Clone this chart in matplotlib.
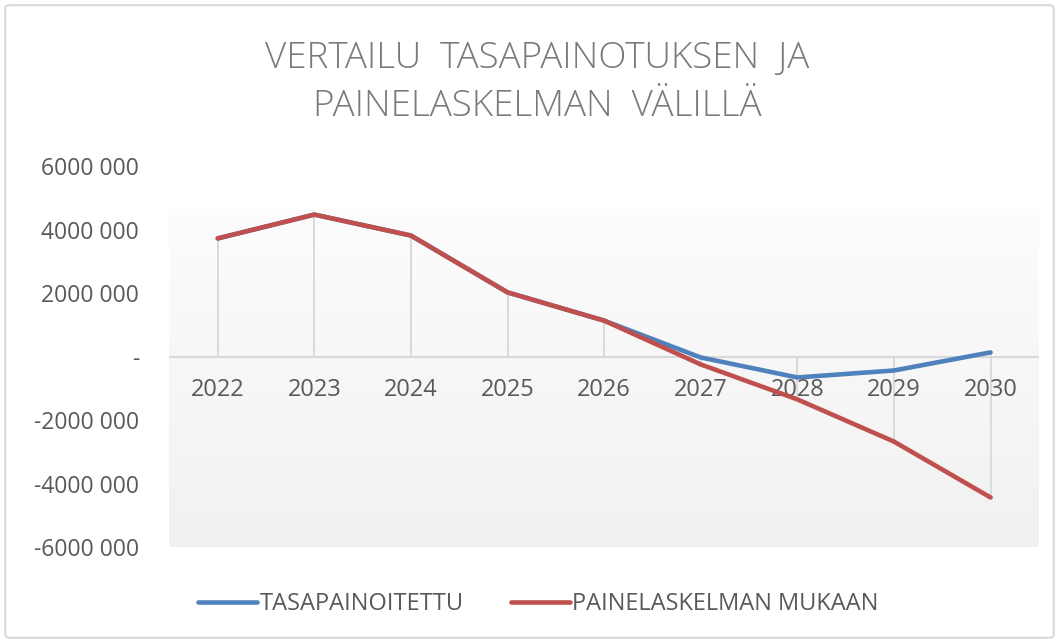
import numpy as np
import matplotlib.pyplot as plt
from matplotlib.patches import FancyBboxPatch

years = ["2022", "2023", "2024", "2025", "2026", "2027", "2028", "2029", "2030"]
tasapainoitettu = [3720000, 4470000, 3810000, 2020000, 1130000, -30000, -660000, -440000, 130000]
painelaskelma = [3720000, 4470000, 3810000, 2020000, 1130000, -250000, -1350000, -2680000, -4440000]
y_ticks = [-6000000, -4000000, -2000000, 0, 2000000, 4000000, 6000000]
y_labels = ["-6000 000", "-4000 000", "-2000 000", "-", "2000 000", "4000 000", "6000 000"]

blue = "#4F81BD"
red = "#C0504D"
grey_txt = "#595959"
font = "Open Sans"

fig = plt.figure(figsize=(10.59, 6.43), dpi=100)
fig.patch.set_facecolor("white")

# chart border
border = FancyBboxPatch((0.005, 0.008), 0.99, 0.984, boxstyle="round,pad=0,rounding_size=0.005",
                        transform=fig.transFigure, facecolor="none", edgecolor="#d9d9d9", lw=1.5)
fig.patches.append(border)

ax = fig.add_axes([0.160, 0.1493, 0.821, 0.5925])
x = np.arange(len(years))
ax.set_xlim(-0.5, len(years) - 0.5)
ax.set_ylim(-6000000, 6000000)

# gradient plot-area fill
grad = np.linspace(0.99, 0.945, 256).reshape(-1, 1)
ax.imshow(np.dstack([grad, grad, grad]), extent=[-0.5, len(years) - 0.5, -6000000, 4630000],
          aspect="auto", zorder=0, interpolation="bilinear")

# drop lines
for i in range(len(years)):
    for v in (tasapainoitettu[i], painelaskelma[i]):
        ax.plot([x[i], x[i]], [0, v], color="#d9d9d9", lw=1.3, zorder=1)

ax.axhline(0, color="#d9d9d9", lw=1.5, zorder=1)

ax.plot(x, tasapainoitettu, color=blue, lw=3.3, solid_capstyle="round", zorder=3, label="TASAPAINOITETTU")
ax.plot(x, painelaskelma, color=red, lw=3.3, solid_capstyle="round", zorder=4, label="PAINELASKELMAN MUKAAN")

for sp in ax.spines.values():
    sp.set_visible(False)
ax.set_xticks([])
ax.set_yticks(y_ticks)
ax.set_yticklabels(y_labels, fontsize=16.5, color=grey_txt, family=font)
ax.tick_params(axis="y", length=0, pad=22)

for i, yr in enumerate(years):
    ax.annotate(yr, (x[i], 0), xytext=(0, -24), textcoords="offset points",
                ha="center", va="center", fontsize=17, color=grey_txt, family=font)

fig.text(0.507, 0.872, "VERTAILU  TASAPAINOTUKSEN  JA\nPAINELASKELMAN  VÄLILLÄ", ha="center", va="center",
         fontsize=26.5, color="#7a7a7a", family=font, weight="light", linespacing=1.4)

leg = fig.legend(loc="center", bbox_to_anchor=(0.5085, 0.061), ncol=2, frameon=False,
                 prop={"family": font, "size": 17}, handlelength=2.5, handletextpad=0.1, columnspacing=2.0)
for t in leg.get_texts():
    t.set_color(grey_txt)

fig.savefig("out.png", dpi=100)
